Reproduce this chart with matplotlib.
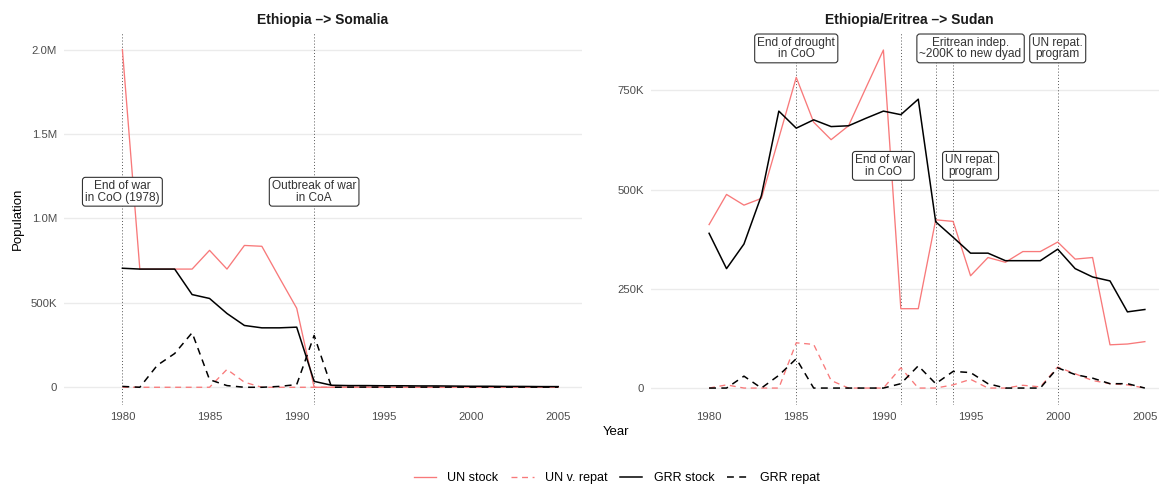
import numpy as np
import matplotlib
matplotlib.use("Agg")
import matplotlib.pyplot as plt
from matplotlib.lines import Line2D

plt.rcParams['font.family'] = ['Liberation Sans', 'DejaVu Sans']

years = list(range(1980, 2006))

# Ethiopia -> Somalia (thousands)
som_un_stock = [2000, 700, 700, 700, 700, 811, 700, 840, 835, 650, 468,
                0, 0, 0, 0, 0, 0, 0, 0, 0, 0, 0, 0, 0, 0, 0]
som_un_repat = [0, 0, 0, 0, 0, 0, 106, 30, 0, 0, 0,
                0, 0, 0, 0, 0, 0, 0, 0, 0, 0, 0, 0, 0, 0, 0]
som_grr_stock = [705, 700, 700, 700, 549, 526, 437, 366, 352, 352, 356,
                 35, 12, 10, 10, 9, 9, 8, 8, 7, 6, 6, 5, 5, 4, 4]
som_grr_repat = [5, 0, 130, 200, 323, 45, 10, 0, 0, 5, 16,
                 307, 0, 1, 1, 1, 1, 1, 1, 1, 1, 1, 1, 1, 1, 1]

# Ethiopia/Eritrea -> Sudan (thousands)
sud_un_stock = [412, 488, 461, 478, 630, 783, 670, 626, 661, 757, 852,
                200, 200, 424, 420, 283, 329, 317, 344, 344, 368, 325, 329, 109, 111, 117]
sud_un_repat = [0, 8, 0, 0, 0, 114, 110, 19, 0, 0, 0,
                51, 0, 0, 8, 22, 0, 0, 7, 3, 53, 36, 19, 11, 8, 0]
sud_grr_stock = [390, 301, 363, 485, 698, 655, 676, 659, 661, 680, 698,
                 689, 728, 419, 380, 340, 340, 321, 321, 321, 350, 301, 280, 270, 192, 198]
sud_grr_repat = [0, 0, 30, 0, 32, 74, 0, 0, 0, 0, 0,
                 11, 56, 11, 42, 39, 11, 0, 0, 0, 51, 34, 25, 11, 11, 0]

som_events = [1980, 1991]
som_labels = [(1980, 1158, "End of war\nin CoO (1978)"),
              (1991, 1158, "Outbreak of war\nin CoA")]
sud_events = [1985, 1991, 1993, 1994, 2000]
sud_labels = [(1985, 856, "End of drought\nin CoO"),
              (1995, 856, "Eritrean indep.\n~200K to new dyad"),
              (2000, 856, "UN repat.\nprogram"),
              (1990, 560, "End of war\nin CoO"),
              (1995, 560, "UN repat.\nprogram")]

som_ticks = [0, 500, 1000, 1500, 2000]
som_ticklabels = ["0", "500K", "1.0M", "1.5M", "2.0M"]
sud_ticks = [0, 250, 500, 750]
sud_ticklabels = ["0", "250K", "500K", "750K"]
xticks = [1980, 1985, 1990, 1995, 2000, 2005]

RED = '#f8797a'
W, H = 1159, 484

fig = plt.figure(figsize=(W / 100, H / 100), dpi=100)
ax1 = fig.add_axes([64 / W, 1 - 405 / H, 517.7 / W, 372.3 / H])
ax2 = fig.add_axes([650.7 / W, 1 - 405 / H, 517.7 / W, 372.3 / H])


def panel(ax, title, un_s, un_r, grr_s, grr_r, events, labels, ticks, ticklabels, ylim):
    ax.set_xlim(1976.65, 2006.35)
    ax.set_ylim(*ylim)
    for t in ticks:
        ax.axhline(t, color='#ebebeb', lw=1.0, zorder=0)
    for e in events:
        ax.axvline(e, color='#555555', lw=0.7, ls=(0, (1, 2.2)), zorder=1)
    ax.plot(years, un_s, color=RED, lw=0.95, zorder=3)
    ax.plot(years, un_r, color=RED, lw=0.95, ls=(0, (4.5, 3.5)), zorder=3)
    ax.plot(years, grr_s, color='black', lw=1.1, zorder=4)
    ax.plot(years, grr_r, color='black', lw=1.1, ls=(0, (4.5, 3.5)), zorder=4)
    for x, y, s in labels:
        ax.text(x, y, s, ha='center', va='center', fontsize=8.6, color='#333333',
                linespacing=0.95, zorder=6,
                bbox=dict(boxstyle='round,pad=0.22,rounding_size=0.25',
                          fc='white', ec='#333333', lw=0.8))
    ax.set_yticks(ticks)
    ax.set_yticklabels(ticklabels)
    ax.set_xticks(xticks)
    ax.tick_params(length=0, labelsize=8.2, labelcolor='#4d4d4d', pad=5)
    for sp in ax.spines.values():
        sp.set_visible(False)
    ax.set_title(title, fontsize=10, fontweight='bold', color='#1a1a1a', pad=6)


panel(ax1, "Ethiopia –> Somalia", som_un_stock, som_un_repat, som_grr_stock,
      som_grr_repat, som_events, som_labels, som_ticks, som_ticklabels, (-105, 2100))
panel(ax2, "Ethiopia/Eritrea –> Sudan", sud_un_stock, sud_un_repat, sud_grr_stock,
      sud_grr_repat, sud_events, sud_labels, sud_ticks, sud_ticklabels, (-42.7, 895.6))

fig.text(18 / W, 1 - 219 / H, "Population", rotation=90, ha='center', va='center',
         fontsize=9.5, color='black')
fig.text(616 / W, 1 - 432 / H, "Year", ha='center', va='center', fontsize=9.5, color='black')

handles = [Line2D([], [], color=RED, lw=0.95),
           Line2D([], [], color=RED, lw=0.95, ls=(0, (4.5, 3.5))),
           Line2D([], [], color='black', lw=1.1),
           Line2D([], [], color='black', lw=1.1, ls=(0, (4.5, 3.5)))]
fig.legend(handles, ["UN stock", "UN v. repat", "GRR stock", "GRR repat"],
           loc='center', bbox_to_anchor=(617 / W, 1 - 478 / H), ncol=4, frameon=False,
           fontsize=9, handlelength=1.8, handletextpad=0.9, columnspacing=1.0)

fig.savefig("out.png", dpi=100, facecolor='white')
